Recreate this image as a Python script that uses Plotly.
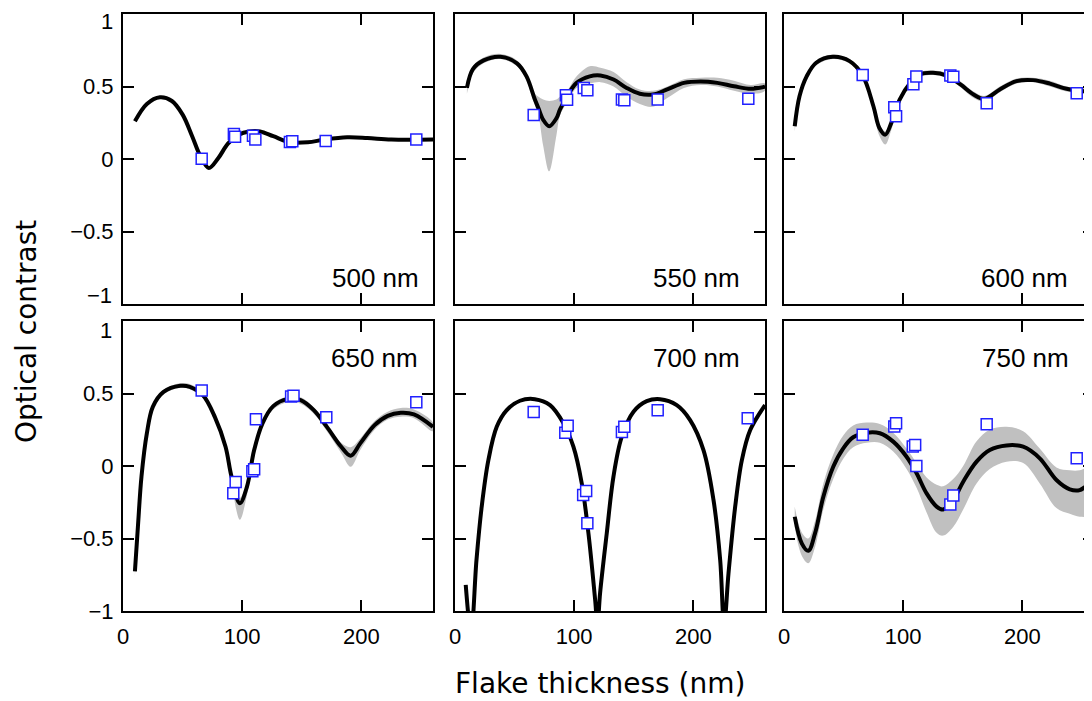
import plotly.graph_objects as go

# ---------------- data ----------------
panel_labels = ["500 nm", "550 nm", "600 nm", "650 nm", "700 nm", "750 nm"]

x500 = [10, 20, 31, 41, 50, 58, 65, 72, 80, 88, 97, 106, 115, 126, 140, 155, 169, 188, 205, 225, 260]
y500 = [0.26, 0.38, 0.426, 0.40, 0.306, 0.157, 0.018, -0.062, 0.007, 0.106, 0.168, 0.19, 0.19, 0.157, 0.115, 0.115, 0.134, 0.15, 0.145, 0.134, 0.134]

x550 = [10, 15, 24, 38, 52, 60, 67, 70, 74, 79, 85, 88, 94, 102, 113, 122, 133, 144, 155, 166, 178, 192, 206, 220, 234, 248, 260]
y550 = [0.49, 0.62, 0.68, 0.705, 0.66, 0.57, 0.41, 0.35, 0.27, 0.226, 0.28, 0.34, 0.433, 0.525, 0.57, 0.576, 0.548, 0.49, 0.45, 0.445, 0.48, 0.525, 0.535, 0.525, 0.502, 0.484, 0.498]
lo550 = [0.45, 0.59, 0.66, 0.69, 0.64, 0.54, 0.37, 0.30, 0.09, -0.085, 0.16, 0.30, 0.39, 0.49, 0.52, 0.53, 0.50, 0.43, 0.38, 0.36, 0.42, 0.49, 0.51, 0.50, 0.47, 0.45, 0.47]
hi550 = [0.51, 0.64, 0.70, 0.725, 0.68, 0.59, 0.45, 0.43, 0.41, 0.40, 0.41, 0.43, 0.47, 0.57, 0.64, 0.63, 0.60, 0.53, 0.48, 0.47, 0.50, 0.55, 0.56, 0.56, 0.54, 0.51, 0.52]

x600 = [9, 13, 19, 27, 41, 55, 66, 75, 80, 85, 90, 97, 106, 114, 125, 136, 148, 159, 168, 181, 195, 209, 223, 237, 251, 260]
y600 = [0.226, 0.433, 0.57, 0.664, 0.705, 0.675, 0.576, 0.364, 0.214, 0.168, 0.249, 0.41, 0.525, 0.583, 0.594, 0.576, 0.514, 0.445, 0.415, 0.48, 0.537, 0.544, 0.52, 0.484, 0.468, 0.484]
lo600 = [0.19, 0.41, 0.55, 0.645, 0.69, 0.66, 0.555, 0.33, 0.16, 0.10, 0.20, 0.39, 0.505, 0.565, 0.58, 0.56, 0.495, 0.42, 0.395, 0.46, 0.52, 0.53, 0.50, 0.465, 0.45, 0.465]
hi600 = [0.25, 0.45, 0.585, 0.68, 0.72, 0.69, 0.595, 0.385, 0.24, 0.19, 0.27, 0.43, 0.545, 0.60, 0.61, 0.595, 0.535, 0.465, 0.435, 0.50, 0.555, 0.56, 0.54, 0.50, 0.49, 0.50]

x650 = [10, 12.5, 15.5, 20, 25, 34, 48, 56, 67, 77, 86, 91, 98, 104, 110, 117, 126, 138, 149, 160, 171, 183, 191, 199, 211, 222, 233, 244, 260]
y650 = [-0.727, -0.42, -0.073, 0.225, 0.408, 0.511, 0.553, 0.546, 0.489, 0.339, 0.133, -0.073, -0.257, -0.142, 0.11, 0.294, 0.413, 0.461, 0.454, 0.385, 0.27, 0.133, 0.071, 0.156, 0.282, 0.346, 0.367, 0.356, 0.27]
lo650 = [-0.76, -0.45, -0.10, 0.20, 0.39, 0.495, 0.54, 0.53, 0.47, 0.32, 0.10, -0.12, -0.37, -0.20, 0.07, 0.27, 0.39, 0.44, 0.43, 0.36, 0.24, 0.09, -0.005, 0.11, 0.25, 0.32, 0.34, 0.33, 0.24]
hi650 = [-0.70, -0.39, -0.05, 0.25, 0.425, 0.525, 0.57, 0.565, 0.505, 0.355, 0.15, -0.04, -0.22, -0.11, 0.13, 0.31, 0.43, 0.48, 0.475, 0.405, 0.29, 0.16, 0.13, 0.19, 0.31, 0.375, 0.40, 0.39, 0.30]

x700 = [9, 13.5, 18, 22.4, 28, 35, 43.4, 54.5, 67, 79.7, 91, 99.3, 106.3, 111.9, 117.5, 119.5, 121.7, 127.3, 132.9, 139.9, 149.7, 160.8, 172, 186, 197.2, 208.4, 216.8, 222.4, 225.7, 229.4, 235, 240.6, 247.6, 260]
y700 = [-0.82, -1.15, -0.65, -0.28, 0.04, 0.27, 0.385, 0.45, 0.461, 0.42, 0.294, 0.133, -0.119, -0.463, -0.92, -1.1, -0.876, -0.463, -0.073, 0.202, 0.374, 0.447, 0.461, 0.42, 0.317, 0.11, -0.234, -0.647, -1.1, -0.739, -0.28, 0.041, 0.248, 0.42]

x750 = [9, 15, 20.4, 26, 33, 41.3, 49.7, 58, 69.3, 80.4, 91.6, 102.8, 111.2, 119.6, 128, 133.5, 141.9, 150.3, 161.5, 172.6, 186.6, 200.6, 214.5, 228.5, 239.7, 248, 260]
y750 = [-0.35, -0.535, -0.585, -0.465, -0.212, -0.005, 0.122, 0.198, 0.23, 0.226, 0.168, 0.064, -0.05, -0.189, -0.28, -0.3, -0.235, -0.108, 0.03, 0.11, 0.142, 0.133, 0.053, -0.097, -0.161, -0.166, -0.09]
lo750 = [-0.42, -0.62, -0.67, -0.56, -0.30, -0.09, 0.05, 0.13, 0.16, 0.16, 0.10, -0.02, -0.15, -0.32, -0.46, -0.48, -0.42, -0.30, -0.12, -0.02, 0.03, 0.02, -0.12, -0.29, -0.33, -0.35, -0.33]
hi750 = [-0.28, -0.46, -0.50, -0.38, -0.12, 0.08, 0.21, 0.28, 0.30, 0.29, 0.23, 0.12, 0.02, -0.08, -0.13, -0.14, -0.09, 0.00, 0.17, 0.25, 0.27, 0.24, 0.12, -0.01, -0.03, -0.03, 0.00]

mx500 = [66, 93, 94, 109, 111, 140, 142, 170, 246]
my500 = [0.002, 0.173, 0.154, 0.161, 0.134, 0.118, 0.122, 0.124, 0.134]
mx550 = [66, 93, 94, 108, 111, 140, 142, 170, 246]
my550 = [0.304, 0.44, 0.408, 0.49, 0.475, 0.41, 0.405, 0.41, 0.415]
mx600 = [66, 92.5, 94, 108.5, 111, 139.5, 142, 170, 245.5]
my600 = [0.58, 0.357, 0.295, 0.516, 0.569, 0.576, 0.567, 0.385, 0.454]
mx650 = [66, 94.5, 92.5, 108.5, 110, 111.5, 141, 143, 170.5, 246]
my650 = [0.52, -0.11, -0.188, -0.037, -0.023, 0.323, 0.479, 0.484, 0.337, 0.44]
mx700 = [66, 92.5, 94.5, 107.5, 110, 111, 140, 142, 170, 245.5]
my700 = [0.372, 0.229, 0.278, -0.2, -0.172, -0.394, 0.234, 0.271, 0.385, 0.33]
mx750 = [66, 92.5, 94, 108, 110, 111, 139.5, 142, 170, 245.5]
my750 = [0.216, 0.272, 0.295, 0.134, 0.145, 0.0, -0.265, -0.203, 0.288, 0.053]

y_tickvals_top = [-0.5, 0, 0.5, 1]
y_ticktext_top = ["\u22120.5", "0", "0.5", ""]
y_tickvals_bottom = [-1, -0.5, 0, 0.5]
y_ticktext_bottom = ["\u22121", "\u22120.5", "0", "0.5"]
x_tickvals = [0, 100, 200]
x_ticktext = ["0", "100", "200"]

curves = [(x500, y500), (x550, y550), (x600, y600), (x650, y650), (x700, y700), (x750, y750)]
bands = [None, (lo550, hi550), (lo600, hi600), (lo650, hi650), None, (lo750, hi750)]
markers = [(mx500, my500), (mx550, my550), (mx600, my600), (mx650, my650), (mx700, my700), (mx750, my750)]

# ---------------- layout geometry ----------------
# The page body has a default 8 px margin, so figure pixel = screen pixel - OFF.
W, H = 1092, 701
OFF = 8
col_px = [(123, 433), (455, 765), (784, 1094)]   # screen pixels
row_px = [(14, 304), (321, 611)]
label_x = [250, 240.5, 240, 249.5, 240.5, 241]
label_y = [-0.82, -0.82, -0.82, 0.745, 0.745, 0.745]


def px(v):
    return (v - OFF) / W


def py(v):
    return 1 - (v - OFF) / H


fig = go.Figure()
layout = dict(
    width=W, height=H,
    margin=dict(l=0, r=0, t=0, b=0, pad=0, autoexpand=False),
    paper_bgcolor="white", plot_bgcolor="white",
    showlegend=False,
)

tick_font = dict(family="Liberation Sans, Arial, sans-serif", size=22, color="black")

for i in range(6):
    r, c = divmod(i, 3)
    sfx = "" if i == 0 else str(i + 1)
    xa, ya = "x" + sfx, "y" + sfx
    x0, x1 = col_px[c]
    y0, y1 = row_px[r]
    layout["xaxis" + sfx] = dict(
        domain=[px(x0), min(px(x1), 1.0)], anchor=ya, range=[0, 260],
        showline=True, linecolor="black", linewidth=2, mirror="ticks",
        ticks="inside", ticklen=11, tickwidth=2, tickcolor="black",
        tickvals=x_tickvals, ticktext=x_ticktext,
        showticklabels=(r == 1), tickfont=tick_font, ticklabelstandoff=5,
        ticklabeloverflow="allow",
        showgrid=False, zeroline=False, fixedrange=True, automargin=False,
    )
    layout["yaxis" + sfx] = dict(
        domain=[py(y1), py(y0)], anchor=xa, range=[-1, 1],
        showline=True, linecolor="black", linewidth=2, mirror="ticks",
        ticks="inside", ticklen=11, tickwidth=2, tickcolor="black",
        tickvals=(y_tickvals_top if r == 0 else y_tickvals_bottom),
        ticktext=(y_ticktext_top if r == 0 else y_ticktext_bottom),
        showticklabels=(c == 0), tickfont=tick_font, ticklabelstandoff=3,
        ticklabeloverflow="allow",
        showgrid=False, zeroline=False, fixedrange=True, automargin=False,
    )
    band = bands[i]
    cx, cy = curves[i]
    if band is not None:
        lo, hi = band
        fig.add_trace(go.Scatter(
            x=list(cx) + list(cx)[::-1], y=list(hi) + list(lo)[::-1],
            fill="toself", fillcolor="#c0c0c0", mode="lines",
            line=dict(width=0, shape="spline", color="#c0c0c0"),
            xaxis=xa, yaxis=ya, hoverinfo="skip",
        ))
    fig.add_trace(go.Scatter(
        x=cx, y=cy, mode="lines",
        line=dict(color="black", width=4, shape="spline", smoothing=1.0),
        xaxis=xa, yaxis=ya,
    ))
    mx, my = markers[i]
    fig.add_trace(go.Scatter(
        x=mx, y=my, mode="markers",
        marker=dict(symbol="square", size=11, color="white",
                    line=dict(color="#2020ff", width=1.5)),
        xaxis=xa, yaxis=ya, cliponaxis=False,
    ))

annotations = []
for i in range(6):
    sfx = "" if i == 0 else str(i + 1)
    annotations.append(dict(
        x=label_x[i], y=label_y[i], xref="x" + sfx, yref="y" + sfx,
        text=panel_labels[i], showarrow=False, xanchor="right", yanchor="middle",
        font=dict(family="Liberation Sans, Arial, sans-serif", size=26, color="black"),
    ))
# end-of-axis labels placed so they neither overlap nor leave the page (as in the reference)
annotations.append(dict(
    x=px(114), y=1.0, xref="paper", yref="paper", text="1",
    showarrow=False, xanchor="right", yanchor="top", borderpad=0, font=tick_font,
))
annotations.append(dict(
    x=px(114), y=py(295), xref="paper", yref="paper", text="\u22121",
    showarrow=False, xanchor="right", yanchor="middle", font=tick_font,
))
annotations.append(dict(
    x=px(114), y=py(330), xref="paper", yref="paper", text="1",
    showarrow=False, xanchor="right", yanchor="middle", font=tick_font,
))
annotations.append(dict(
    x=px(600), y=py(683), xref="paper", yref="paper",
    text="Flake thickness (nm)", showarrow=False, xanchor="center", yanchor="middle",
    font=dict(family="DejaVu Sans, Verdana, sans-serif", size=28, color="black"),
))
annotations.append(dict(
    x=px(26), y=py(332), xref="paper", yref="paper",
    text="Optical contrast", showarrow=False, textangle=-90,
    xanchor="center", yanchor="middle",
    font=dict(family="DejaVu Sans, Verdana, sans-serif", size=28, color="black"),
))
layout["annotations"] = annotations

fig.update_layout(**layout)
fig.write_html("out.html")
